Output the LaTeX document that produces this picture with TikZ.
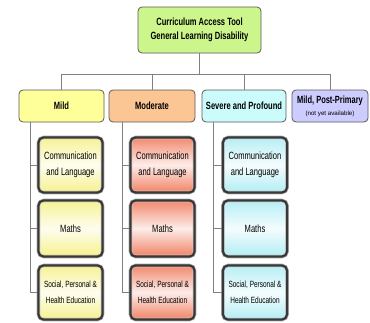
\documentclass[tikz,border=0pt]{standalone}
\usepackage{fontspec}
\setmainfont[FakeStretch=0.72]{Liberation Sans}
\newfontfamily\widefont{Liberation Sans}
\begin{document}
\begin{tikzpicture}[x=1pt,y=-1pt,
  conn/.style={draw=black!50, line width=0.8pt},
  topbox/.style={draw=black!65, line width=0.8pt, rounded corners=4pt, fill=#1, align=center,
     font=\fontsize{10.5}{14}\selectfont\bfseries, inner sep=0pt},
  child/.style={rounded corners=5pt, draw=black!78, line width=2.2pt,
     preaction={draw=black!35, line width=3.6pt},
     align=center, inner sep=0pt, minimum width=64pt,
     path picture={\draw[white!80!black, line width=0.6pt, rounded corners=3pt]
        ([shift={(1.6pt,-1.6pt)}]path picture bounding box.north west) rectangle
        ([shift={(-1.6pt,1.6pt)}]path picture bounding box.south east);}},
  ychild/.style={child, top color=#1!80!white, bottom color=#1!85!white, middle color=#1!12!white},
]
\useasboundingbox (0,0) rectangle (370,322);
\definecolor{cgreen}{HTML}{CCF58C}
\definecolor{cyel}{HTML}{FFFF99}
\definecolor{cpeach}{HTML}{FCC594}
\definecolor{ccyan}{HTML}{CCFBFB}
\definecolor{clav}{HTML}{CCCCFF}
\definecolor{kyel}{HTML}{F4EF7A}
\definecolor{kred}{HTML}{EE6B48}
\definecolor{kcyan}{HTML}{A4EAF2}

\node[topbox=cgreen, minimum width=123pt, minimum height=46pt] (top) at (199.5,30)
  {Curriculum Access Tool\\General Learning Disability};

\node[topbox=cyel, minimum width=85pt, minimum height=32pt] (mild) at (61.5,106) {Mild};
\node[topbox=cpeach, minimum width=86pt, minimum height=32pt] (mod) at (152,106) {Moderate};
\node[topbox=ccyan, minimum width=84pt, minimum height=32pt] (sev) at (244,106) {Severe and Profound};
\node[topbox=clav, minimum width=76pt, minimum height=32pt, font=\bfseries] (post) at (330,106)
  {\fontsize{10.4}{10}\selectfont Mild, Post-Primary\\{\fontsize{6.2}{7}\selectfont\widefont\mdseries (not yet available)}};

\coordinate (bus) at (0,74);

% children
\tikzset{c1/.style={minimum height=55pt, font=\fontsize{10.5}{16}\selectfont},
         c2/.style={minimum height=56pt, font=\fontsize{10.5}{16}\selectfont},
         c3/.style={minimum height=54pt, font=\fontsize{9}{16}\selectfont}}
\node[ychild=kyel, c1] (m1) at (70.5,165) {Communication\\and Language};
\node[ychild=kyel, c2] (m2) at (70.5,228.5) {Maths};
\node[ychild=kyel, c3] (m3) at (70.5,292.5) {Social, Personal \&\\Health Education};
\node[ychild=kred, c1] (o1) at (162.5,165) {Communication\\and Language};
\node[ychild=kred, c2] (o2) at (162.5,228.5) {Maths};
\node[ychild=kred, c3] (o3) at (162.5,292.5) {Social, Personal \&\\Health Education};
\node[ychild=kcyan, c1] (s1) at (255,165) {Communication\\and Language};
\node[ychild=kcyan, c2] (s2) at (255,228.5) {Maths};
\node[ychild=kcyan, c3] (s3) at (255,292.5) {Social, Personal \&\\Health Education};

% top connectors
\draw[conn] (top.south) -- (top.south |- bus);
\draw[conn] (mild.north) -- (mild.north |- bus) -- (post.north |- bus) -- (post.north);
\draw[conn] (mod.north) -- (mod.north |- bus);
\draw[conn] (sev.north) -- (sev.north |- bus);

% stems
\coordinate (ms) at ([xshift=-7pt]m1.west |- mild.south);
\coordinate (os) at ([xshift=-7pt]o1.west |- mod.south);
\coordinate (ss) at ([xshift=-9pt]s1.west |- sev.south);
\draw[conn] (ms) |- (m3.west);
\draw[conn] (m1.west) -- (m1.west -| ms);
\draw[conn] (m2.west) -- (m2.west -| ms);
\draw[conn] (os) |- (o3.west);
\draw[conn] (o1.west) -- (o1.west -| os);
\draw[conn] (o2.west) -- (o2.west -| os);
\draw[conn] (ss) |- (s3.west);
\draw[conn] (s1.west) -- (s1.west -| ss);
\draw[conn] (s2.west) -- (s2.west -| ss);
\end{tikzpicture}
\end{document}
